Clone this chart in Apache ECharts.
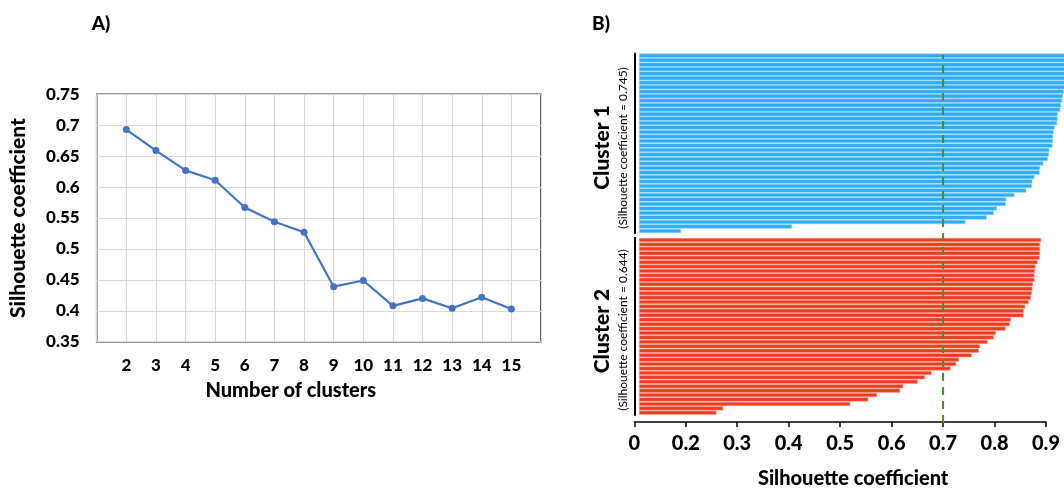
<!DOCTYPE html>
<html>
<head>
<meta charset="utf-8">
<script src="https://cdn.jsdelivr.net/npm/echarts@6/dist/echarts.min.js"></script>
<style>
html,body{margin:0;padding:0;background:#fff;}
#c{width:1064px;height:490px;}
</style>
</head>
<body>
<div id="c"></div>
<script>
// Panel A data
const clusterCounts = [2,3,4,5,6,7,8,9,10,11,12,13,14,15];
const silhouetteByK = [0.693,0.659,0.627,0.611,0.567,0.544,0.527,0.439,0.449,0.408,0.420,0.404,0.422,0.403];
// Panel B data (each sample's silhouette value, sorted)
const cluster1Values = [0.960,0.955,0.952,0.950,0.946,0.942,0.940,0.936,0.934,0.932,0.931,0.929,0.927,0.922,0.922,0.921,0.916,0.914,0.913,0.913,0.912,0.906,0.905,0.903,0.894,0.888,0.887,0.877,0.873,0.872,0.861,0.838,0.822,0.821,0.804,0.798,0.784,0.743,0.406,0.190];
const cluster2Values = [0.890,0.888,0.888,0.888,0.887,0.883,0.879,0.878,0.877,0.877,0.874,0.873,0.872,0.870,0.866,0.859,0.856,0.856,0.831,0.829,0.821,0.802,0.798,0.786,0.771,0.769,0.755,0.730,0.725,0.714,0.677,0.664,0.650,0.622,0.616,0.571,0.554,0.519,0.272,0.259];
const clusterNames = ['Cluster 1','Cluster 2'];
const clusterSubtitles = ['(Silhouette coefficient = 0.745)','(Silhouette coefficient = 0.644)'];
const thresholdValue = [0.7];
const bTicks = [0.1,0.2,0.3,0.4,0.5,0.6,0.7,0.8,0.9];
const bTickLabels = ['0','0.2','0.3','0.4','0.5','0.6','0.7','0.8','0.9'];

const FONT = 'Lato, "Open Sans", sans-serif';
const BW = 900;
const chart = echarts.init(document.getElementById('c'), null, {renderer:'canvas'});

function barItem(color, edge){
  return function(params, api){
    const idx = api.value(1);
    const v = api.value(0);
    const s = api.coord([bTicks[0], idx]);
    const e = api.coord([v, idx]);
    const h = api.size([0,1])[1] * 0.8;
    const x0 = s[0] + 5;
    return {type:'rect', shape:{x:x0, y:e[1]-h/2, width:Math.max(0,e[0]-x0), height:h},
      style:{fill:color, stroke:edge, lineWidth:0.6}};
  };
}
const idx40 = cluster1Values.map((_,i)=>String(i));

const bX = {min:0.1, max:0.9, interval:0.1, type:'value'};

const option = {
  animation:false,
  backgroundColor:'#fff',
  grid:[
    {left:96.7, right:523, top:94.3, bottom:148.3, show:true, borderColor:'#333', borderWidth:1.5},
    {left:634.3, right:18, top:53.4, height:179.8},
    {left:634.3, right:18, top:237.8, height:178.4},
    {left:634.3, right:18, top:55, height:368}
  ],
  xAxis:[
    {gridIndex:0, type:'value', min:1, max:16, interval:1,
      axisLine:{show:false}, axisTick:{show:false},
      splitLine:{lineStyle:{color:'#d9d9d9', width:1}},
      axisLabel:{margin:15, color:'#000', fontFamily:FONT, fontWeight:BW, fontSize:17,
        formatter:v => clusterCounts.indexOf(v) >= 0 ? String(v) : ''},
      name:'Number of clusters', nameLocation:'middle', nameGap:39,
      nameTextStyle:{color:'#000', fontFamily:FONT, fontWeight:BW, fontSize:20, padding:[0,56,0,0]}
    },
    Object.assign({gridIndex:1, show:false}, bX),
    Object.assign({gridIndex:2, show:true, offset:7,
      axisLine:{show:true, lineStyle:{color:'#000', width:1.5}},
      axisTick:{show:true, length:5, lineStyle:{color:'#000', width:1.5}},
      splitLine:{show:false},
      axisLabel:{margin:12, color:'#000', fontFamily:FONT, fontWeight:BW, fontSize:20,
        formatter:v => { const i = bTicks.findIndex(t => Math.abs(t - v) < 1e-6); return i >= 0 ? bTickLabels[i] : ''; }},
      name:'Silhouette coefficient', nameLocation:'middle', nameGap:47,
      nameTextStyle:{color:'#000', fontFamily:FONT, fontWeight:BW, fontSize:20, padding:[0,0,0,26]}
    }, bX),
    Object.assign({gridIndex:3, show:false}, bX)
  ],
  yAxis:[
    {gridIndex:0, type:'value', min:0.35, max:0.75, interval:0.05,
      axisLine:{show:false}, axisTick:{show:false},
      splitLine:{lineStyle:{color:'#d9d9d9', width:1}},
      axisLabel:{margin:17, color:'#000', fontFamily:FONT, fontWeight:BW, fontSize:17,
        formatter:v => String(parseFloat(v.toFixed(2)))},
      name:'Silhouette coefficient', nameLocation:'middle', nameGap:68,
      nameTextStyle:{color:'#000', fontFamily:FONT, fontWeight:BW, fontSize:21}
    },
    {gridIndex:1, type:'category', data:idx40, inverse:true,
      axisLine:{show:true, lineStyle:{color:'#000', width:2}}, axisTick:{show:false}, axisLabel:{show:false}, splitLine:{show:false}},
    {gridIndex:2, type:'category', data:idx40, inverse:true,
      axisLine:{show:true, lineStyle:{color:'#000', width:2}}, axisTick:{show:false}, axisLabel:{show:false}, splitLine:{show:false}},
    {gridIndex:3, type:'value', min:0, max:1, show:false}
  ],
  series:[
    {type:'line', xAxisIndex:0, yAxisIndex:0,
      data:clusterCounts.map((k,i)=>[k, silhouetteByK[i]]),
      lineStyle:{color:'#4472C4', width:2.2}, itemStyle:{color:'#4472C4'},
      symbol:'circle', symbolSize:7, silent:true},
    {type:'custom', xAxisIndex:1, yAxisIndex:1, renderItem:barItem('#2DABF3', '#8ED4FA'),
      encode:{x:0, y:1}, data:cluster1Values.map((v,i)=>[v,i]), silent:true},
    {type:'custom', xAxisIndex:2, yAxisIndex:2, renderItem:barItem('#EF3B22', '#F7A08F'),
      encode:{x:0, y:1}, data:cluster2Values.map((v,i)=>[v,i]), silent:true},
    {type:'line', xAxisIndex:3, yAxisIndex:3, symbol:'none', silent:true, z:5,
      data:[[thresholdValue[0],0],[thresholdValue[0],1]],
      lineStyle:{color:'#4C8A2A', width:2, type:[8,6]}}
  ],
  graphic:[
    {type:'text', x:101, y:24, style:{text:'A)', font:BW+' 19px '+FONT, fill:'#000', align:'center', verticalAlign:'middle', textAlign:'center', textVerticalAlign:'middle'}},
    {type:'text', x:601, y:24, style:{text:'B)', font:BW+' 19px '+FONT, fill:'#000', align:'center', verticalAlign:'middle', textAlign:'center', textVerticalAlign:'middle'}},
    {type:'text', x:602, y:147.5, rotation:Math.PI/2, style:{text:clusterNames[0], font:BW+' 21px '+FONT, fill:'#000', align:'center', verticalAlign:'middle', textAlign:'center', textVerticalAlign:'middle'}},
    {type:'text', x:623.5, y:148, rotation:Math.PI/2, style:{text:clusterSubtitles[0], font:'12px '+FONT, fill:'#000', align:'center', verticalAlign:'middle', textAlign:'center', textVerticalAlign:'middle'}},
    {type:'text', x:602, y:331, rotation:Math.PI/2, style:{text:clusterNames[1], font:BW+' 21px '+FONT, fill:'#000', align:'center', verticalAlign:'middle', textAlign:'center', textVerticalAlign:'middle'}},
    {type:'text', x:623.5, y:330, rotation:Math.PI/2, style:{text:clusterSubtitles[1], font:'12px '+FONT, fill:'#000', align:'center', verticalAlign:'middle', textAlign:'center', textVerticalAlign:'middle'}}
  ]
};
chart.setOption(option);
</script>
</body>
</html>
